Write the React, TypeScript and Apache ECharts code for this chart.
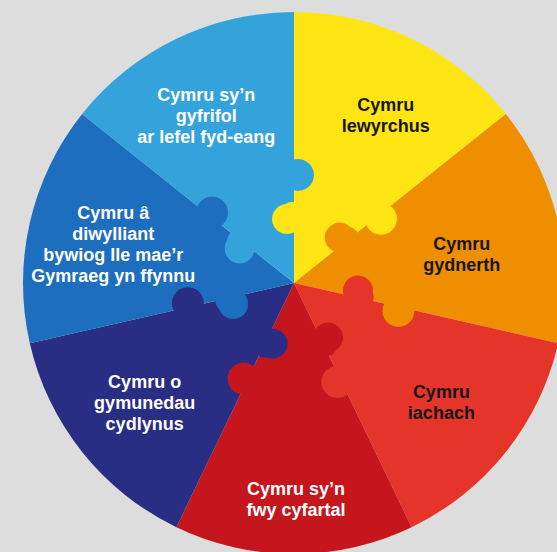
import React, { useEffect, useRef } from 'react';
import * as echarts from 'echarts';

// Seven well-being goals, clockwise from the top
const goals = [
  'Cymru\nlewyrchus',
  'Cymru\ngydnerth',
  'Cymru\niachach',
  'Cymru sy’n\nfwy cyfartal',
  'Cymru o\ngymunedau\ncydlynus',
  'Cymru â\ndiwylliant\nbywiog lle mae’r\nGymraeg yn ffynnu',
  'Cymru sy’n\ngyfrifol\nar lefel fyd-eang',
];
const shares = [1, 1, 1, 1, 1, 1, 1];
const sliceColors = ['#FFE514', '#EF8F00', '#E5352B', '#C5161E', '#2A2D84', '#1D6EBE', '#34A3DC'];
const labelColors = ['#161616', '#161616', '#161616', '#ffffff', '#ffffff', '#ffffff', '#ffffff'];

// layout (not data)
const CX = 294;
const CY = 283;
const R = 271;
const labelNudgeX = [10, -16, 0, 2, -2, 3, -6];
const labelNudgeY = [2, 13, 2, 28, 2, 3, 3];

function knobGraphics() {
  const total = shares.reduce((a, b) => a + b, 0);
  const els: any[] = [];
  let cum = 0;
  for (let i = 0; i < shares.length; i++) {
    const theta = (cum / total) * 2 * Math.PI;
    cum += shares[i];
    const prev = (i - 1 + shares.length) % shares.length;
    const ux = Math.sin(theta), uy = -Math.cos(theta);
    const tx = Math.cos(theta), ty = Math.sin(theta);
    const at = (r: number, off: number) => [CX + ux * r + tx * off, CY + uy * r + ty * off];
    // knob of the clockwise slice reaching back into the previous one (head + neck)
    const [n1x, n1y] = at(70, -2);
    els.push({
      type: 'circle', silent: true, z: 5,
      shape: { cx: n1x, cy: n1y, r: 11 },
      style: { fill: sliceColors[i] },
    });
    const [k1x, k1y] = at(64, -7);
    els.push({
      type: 'circle', silent: true, z: 5,
      shape: { cx: k1x, cy: k1y, r: 15 },
      style: { fill: sliceColors[i] },
    });
    // bulge of the previous slice reaching into the clockwise one
    const [k2x, k2y] = at(108, 4);
    els.push({
      type: 'circle', silent: true, z: 5,
      shape: { cx: k2x, cy: k2y, r: 16 },
      style: { fill: sliceColors[prev] },
    });
  }
  return els;
}

export default function App() {
  const ref = useRef<HTMLDivElement>(null);
  useEffect(() => {
    if (!ref.current) return;
    const chart = echarts.init(ref.current, undefined, { renderer: 'svg' });
    const pieData = goals.map((g, i) => ({
      name: g,
      value: shares[i],
      itemStyle: { color: sliceColors[i] },
    }));
    const labelData = goals.map((g, i) => ({
      name: g,
      value: shares[i],
      label: { color: labelColors[i] },
    }));
    chart.setOption({
      animation: false,
      backgroundColor: '#dddddd',
      graphic: { elements: knobGraphics() },
      series: [
        {
          type: 'pie',
          center: [CX, CY],
          radius: [0, R],
          startAngle: 90,
          clockwise: true,
          silent: true,
          z: 2,
          label: { show: false },
          labelLine: { show: false },
          itemStyle: { borderWidth: 0 },
          emphasis: { disabled: true },
          data: pieData,
        },
        {
          type: 'pie',
          center: [CX, CY],
          radius: [100, R],
          startAngle: 90,
          clockwise: true,
          silent: true,
          z: 10,
          itemStyle: { color: 'rgba(0,0,0,0)', borderWidth: 0 },
          emphasis: { disabled: true },
          labelLine: { show: false },
          label: {
            show: true,
            position: 'inside',
            formatter: '{b}',
            fontSize: 18,
            fontWeight: 'bold',
            fontFamily: '"Liberation Sans", Arial, sans-serif',
            lineHeight: 21,
            align: 'center',
          },
          labelLayout: (p: any) => ({ dx: labelNudgeX[p.dataIndex], dy: labelNudgeY[p.dataIndex] }),
          data: labelData,
        },
      ],
    });
    return () => chart.dispose();
  }, []);
  return <div ref={ref} style={{ position: 'absolute', left: 0, top: 0, width: 557, height: 552 }} />;
}
